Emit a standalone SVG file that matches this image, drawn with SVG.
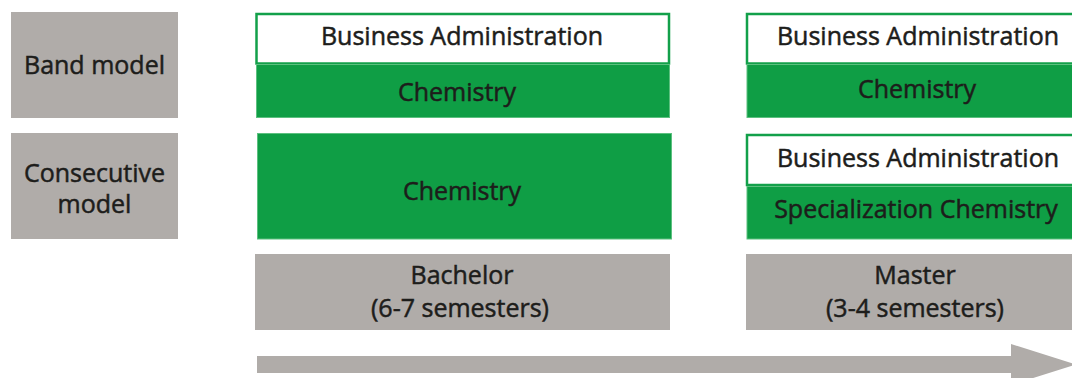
<svg xmlns="http://www.w3.org/2000/svg" width="1072" height="378" viewBox="0 0 1072 378">
<style>
.lbl{fill:#b0aca9}
.wht{fill:#ffffff;stroke:#13a04a;stroke-width:2.5}
.grn{fill:#0f9e45;stroke:#5cc07f;stroke-width:1}
text{font-family:"Open Sans","Noto Sans","Liberation Sans",sans-serif;font-size:25px;font-weight:500;fill:#1d1d1b;stroke:#1d1d1b;stroke-width:0.5;text-anchor:middle}
</style>
<rect width="1072" height="378" fill="#ffffff"/>
<g id="band-label">
<rect class="lbl" x="11" y="12" width="167" height="106"/>
<text x="94.5" y="74">Band model</text>
</g>
<g id="consecutive-label">
<rect class="lbl" x="11" y="133" width="167" height="106"/>
<text x="94.5" y="182">Consecutive</text>
<text x="94.5" y="213">model</text>
</g>
<g id="band-bachelor-ba">
<rect class="wht" x="256.5" y="14" width="412.5" height="49.5"/>
<text x="462" y="45">Business Administration</text>
</g>
<g id="band-bachelor-chem">
<rect class="grn" x="256.5" y="64.5" width="413" height="53"/>
<text x="457" y="101">Chemistry</text>
</g>
<g id="cons-bachelor-chem">
<rect class="grn" x="257.5" y="133.5" width="414" height="105.5"/>
<text x="462" y="200">Chemistry</text>
</g>
<g id="band-master-ba">
<rect class="wht" x="747" y="14" width="345" height="49.5"/>
<text x="918" y="45">Business Administration</text>
</g>
<g id="band-master-chem">
<rect class="grn" x="747" y="64.5" width="345" height="53"/>
<text x="917" y="98">Chemistry</text>
</g>
<g id="cons-master-ba">
<rect class="wht" x="747" y="135" width="345" height="50"/>
<text x="918" y="167">Business Administration</text>
</g>
<g id="cons-master-spec">
<rect class="grn" x="747" y="186.5" width="345" height="52.5"/>
<text x="916" y="218">Specialization Chemistry</text>
</g>
<g id="bachelor">
<rect class="lbl" x="255" y="254" width="415" height="76"/>
<text x="462" y="284">Bachelor</text>
<text x="460" y="317">(6-7 semesters)</text>
</g>
<g id="master">
<rect class="lbl" x="746" y="254" width="346" height="76"/>
<text x="915" y="284">Master</text>
<text x="915" y="317">(3-4 semesters)</text>
</g>
<g id="connectors">
<polygon class="lbl" points="257,356 1011,356 1011,344 1076,364.5 1011,385 1011,373 257,373"/>
</g>
</svg>
